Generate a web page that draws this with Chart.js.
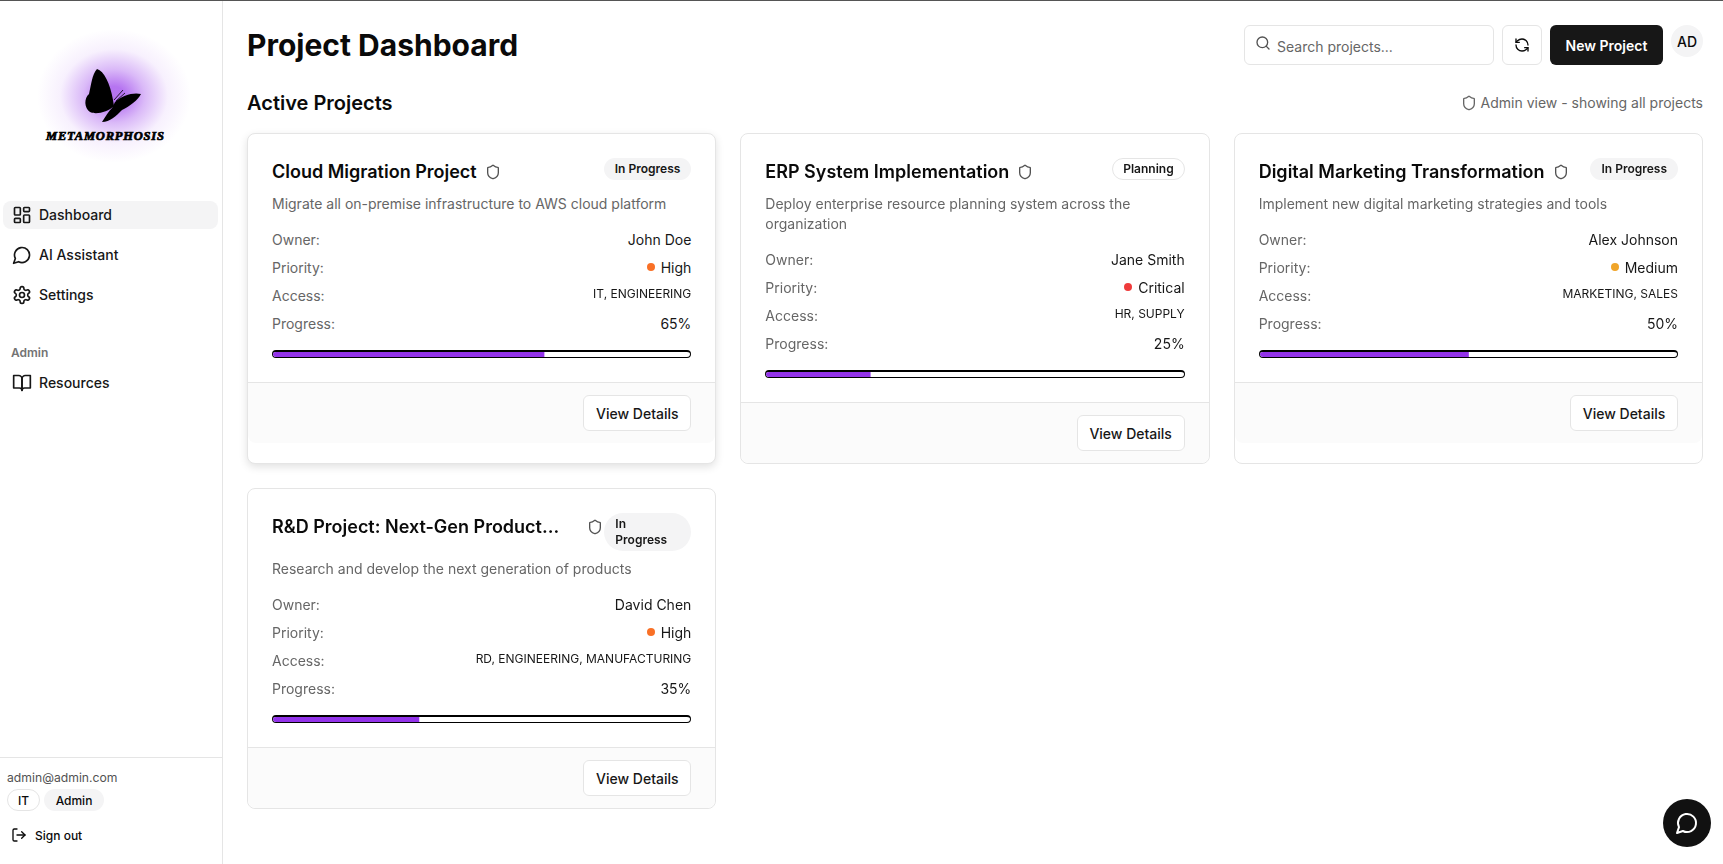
<!DOCTYPE html>
<html lang="en">
<head>
<meta charset="utf-8">
<title>Project Dashboard</title>
<script src="https://cdn.jsdelivr.net/npm/chart.js@4"></script>
<style>
    * { box-sizing: border-box; }
    html, body { margin: 0; height: 100%; overflow: hidden; }
    body { font-family: Inter, sans-serif; color: #0a0a0a; background: #fff; border-top: 1px solid #555; font-size: 14px; }
    svg.icon { fill: none; stroke: currentColor; stroke-width: 2; stroke-linecap: round; stroke-linejoin: round; flex: none; display: block; }

    .sidebar { position: absolute; left: 0; top: 1px; bottom: 0; width: 223px; border-right: 1px solid #e5e5e5; }
    .logo-glow { position: absolute; left: 37px; top: 28px; width: 154px; height: 134px; background: radial-gradient(closest-side, rgba(147, 51, 234, .68) 14%, rgba(147, 51, 234, .34) 40%, rgba(147, 51, 234, .07) 70%, rgba(147, 51, 234, 0) 100%); }
    .butterfly { position: absolute; left: 0; top: -1px; }
    .logo-text { position: absolute; left: 46px; top: 128px; width: 120px; font: italic 700 12.5px "Liberation Serif", serif; -webkit-text-stroke: .7px #000; letter-spacing: .8px; color: #000; white-space: nowrap; }
    .nav-item { position: absolute; left: 3px; width: 215px; height: 28px; display: flex; align-items: center; padding-left: 9px; gap: 7px; font-weight: 500; color: #171717; border-radius: 8px; }
    .nav-item span { position: relative; top: -1px; }
    .nav-item.active { background: #f4f4f5; }
    .nav-label { position: absolute; left: 11px; top: 344px; font-size: 12px; font-weight: 600; color: #737373; }
    .side-footer { position: absolute; left: 0; right: 0; top: 756px; border-top: 1px solid #e5e5e5; }
    .side-email { position: absolute; left: 7px; top: 12px; font-size: 12.2px; color: #525252; white-space: nowrap; }
    .chip { position: absolute; top: 31px; height: 22px; border-radius: 11px; font-size: 12px; font-weight: 500; display: flex; align-items: center; justify-content: center; }
    .sign-out { position: absolute; left: 11px; top: 69px; display: flex; align-items: center; gap: 8px; font-size: 12px; font-weight: 500; }

    .main { position: absolute; left: 247px; top: 1px; width: 1456px; }
    h1 { position: absolute; left: 0; top: 24px; margin: 0; font-size: 30px; line-height: 40px; font-weight: 700; white-space: nowrap; }
    h2 { position: absolute; left: 0; top: 88px; margin: 0; font-size: 20px; line-height: 28px; font-weight: 600; white-space: nowrap; }
    .search { position: absolute; left: 997px; top: 24px; width: 250px; height: 40px; border: 1px solid #e5e5e5; border-radius: 6px; color: #737373; }
    .search svg { position: absolute; left: 10px; top: 9px; color: #525252; }
    .search span { position: absolute; left: 32px; top: 11px; line-height: 20px; color: #666; }
    .refresh { position: absolute; left: 1255px; top: 24px; width: 40px; height: 40px; border: 1px solid #e5e5e5; border-radius: 6px; display: flex; align-items: center; justify-content: center; }
    .new-project { position: absolute; left: 1303px; top: 24px; width: 113px; height: 40px; border-radius: 6px; background: #171717; color: #fff; font-weight: 600; display: flex; align-items: center; justify-content: center; }
    .avatar { position: absolute; left: 1424px; top: 24px; width: 32px; height: 32px; border-radius: 50%; background: #f4f4f5; font-weight: 500; display: flex; align-items: center; justify-content: center; }
    .admin-note { position: absolute; right: 0; top: 92px; display: flex; align-items: center; gap: 4px; color: #666; line-height: 20px; white-space: nowrap; }

    .grid { position: absolute; left: 0; top: 132px; width: 1456px; display: grid; grid-template-columns: repeat(3, 1fr); column-gap: 24px; row-gap: 24px; }
    .project-card { border: 1px solid #e5e5e5; border-radius: 8px; background: #fff; }
    .project-card:first-child { box-shadow: 0 3px 8px rgba(0, 0, 0, .12); }
    .card-body { padding: 24px 24px 24px; }
    .card-head { display: flex; align-items: flex-start; justify-content: space-between; margin-bottom: 8px; }
    .title-wrap { display: flex; align-items: center; gap: 8px; height: 28px; }
    .project-title { font-size: 18px; line-height: 28px; font-weight: 600; white-space: nowrap; }
    .project-card:last-child .project-title { width: 307px; }
    .badge { padding: 2px 10px; border: 1px solid transparent; border-radius: 16px; background: #f4f4f5; font-size: 12px; line-height: 16px; font-weight: 600; color: #171717; }
    .badge.outline { background: #fff; border-color: #e5e5e5; }
    .project-card:last-child .badge { width: 87px; border-radius: 19px; }
    .description { line-height: 20px; color: #666; margin-bottom: 11px; }
    .row { display: flex; justify-content: space-between; align-items: center; height: 28px; color: #666; }
    .row .value { color: #171717; display: flex; align-items: center; gap: 6px; }
    .row .value.small { font-size: 12px; position: relative; top: -2px; }
    .dot { width: 8px; height: 8px; border-radius: 50%; }
    .progress-box { margin-top: 13px; height: 8px; border: 1px solid #000; border-top-width: 2px; border-radius: 4px; overflow: hidden; }
    .progress-box canvas { display: block; }
    .card-foot { border-top: 1px solid #e5e5e5; background: #fbfbfb; padding: 12px 24px; display: flex; justify-content: flex-end; border-radius: 0 0 8px 8px; }
    .view-btn { height: 36px; width: 108px; background: #fff; border: 1px solid #e5e5e5; border-radius: 6px; font-weight: 500; color: #171717; display: flex; align-items: center; justify-content: center; }
    .chat { position: absolute; left: 1663px; top: 799px; width: 48px; height: 48px; border-radius: 50%; background: #111; color: #fff; display: flex; align-items: center; justify-content: center; }
</style>
</head>
<body>
<div class="sidebar">
    <div class="logo-glow"></div>
    <svg class="butterfly" width="222" height="160" viewBox="0 0 222 160">
        <path fill="#000" d="M97 69C104 71 110 83 113 100L114 106C108 112 96 115 90 112C84 108 84 98 89 94C91 86 92 74 97 69Z"/>
        <path fill="#000" d="M115 102C122 95 134 92 141 94C138 100 130 106 122 110C116 116 110 122 102 122C106 116 108 112 112 108Z"/>
        <path stroke="#000" stroke-width=".8" fill="none" d="M114 100L123 90M116 101L125 93"/>
    </svg>
    <div class="logo-text">METAMORPHOSIS</div>
    <div class="nav-item active" style="top:200px"><svg class="icon" width="20" height="20" viewBox="0 0 24 24"><rect x="3" y="3" width="7" height="9" rx="1"/><rect x="14" y="3" width="7" height="5" rx="1"/><rect x="14" y="12" width="7" height="9" rx="1"/><rect x="3" y="16" width="7" height="5" rx="1"/></svg><span>Dashboard</span></div>
    <div class="nav-item" style="top:240px"><svg class="icon" width="20" height="20" viewBox="0 0 24 24"><path d="M7.9 20A9 9 0 1 0 4 16.1L2 22Z"/></svg><span>AI Assistant</span></div>
    <div class="nav-item" style="top:280px"><svg class="icon" width="20" height="20" viewBox="0 0 24 24"><path d="M12.22 2h-.44a2 2 0 0 0-2 2v.18a2 2 0 0 1-1 1.73l-.43.25a2 2 0 0 1-2 0l-.15-.08a2 2 0 0 0-2.73.73l-.22.38a2 2 0 0 0 .73 2.73l.15.1a2 2 0 0 1 1 1.72v.51a2 2 0 0 1-1 1.74l-.15.09a2 2 0 0 0-.73 2.73l.22.38a2 2 0 0 0 2.73.73l.15-.08a2 2 0 0 1 2 0l.43.25a2 2 0 0 1 1 1.73V20a2 2 0 0 0 2 2h.44a2 2 0 0 0 2-2v-.18a2 2 0 0 1 1-1.73l.43-.25a2 2 0 0 1 2 0l.15.08a2 2 0 0 0 2.73-.73l.22-.39a2 2 0 0 0-.73-2.73l-.15-.08a2 2 0 0 1-1-1.74v-.5a2 2 0 0 1 1-1.74l.15-.09a2 2 0 0 0 .73-2.73l-.22-.38a2 2 0 0 0-2.73-.73l-.15.08a2 2 0 0 1-2 0l-.43-.25a2 2 0 0 1-1-1.73V4a2 2 0 0 0-2-2z"/><circle cx="12" cy="12" r="3"/></svg><span>Settings</span></div>
    <div class="nav-label">Admin</div>
    <div class="nav-item" style="top:368px"><svg class="icon" width="20" height="20" viewBox="0 0 24 24"><path d="M2 3h6a4 4 0 0 1 4 4v14a3 3 0 0 0-3-3H2z"/><path d="M22 3h-6a4 4 0 0 0-4 4v14a3 3 0 0 1 3-3h7z"/></svg><span>Resources</span></div>
    <div class="side-footer">
        <div class="side-email">admin@admin.com</div>
        <div class="chip" style="left:7px;width:33px;border:1px solid #e5e5e5">IT</div>
        <div class="chip" style="left:44px;width:60px;background:#f4f4f5">Admin</div>
        <div class="sign-out"><svg class="icon" width="16" height="16" viewBox="0 0 24 24"><path d="M9 21H5a2 2 0 0 1-2-2V5a2 2 0 0 1 2-2h4"/><path d="m16 17 5-5-5-5"/><path d="M21 12H9"/></svg>Sign out</div>
    </div>
</div>

<div class="main">
    <h1>Project Dashboard</h1>
    <div class="search"><svg class="icon" width="16" height="16" viewBox="0 0 24 24"><circle cx="11" cy="11" r="8"/><path d="m21 21-4.3-4.3"/></svg><span>Search projects...</span></div>
    <div class="refresh"><svg class="icon" width="16" height="16" viewBox="0 0 24 24"><path d="M21 12a9 9 0 0 0-9-9 9.75 9.75 0 0 0-6.74 2.74L3 8"/><path d="M3 3v5h5"/><path d="M3 12a9 9 0 0 0 9 9 9.75 9.75 0 0 0 6.74-2.74L21 16"/><path d="M16 16h5v5"/></svg></div>
    <div class="new-project">New Project</div>
    <div class="avatar">AD</div>
    <h2>Active Projects</h2>
    <div class="admin-note"><svg class="icon" width="16" height="16" viewBox="0 0 24 24"><path d="M20 13c0 5-3.5 7.5-7.66 8.95a1 1 0 0 1-.67-.01C7.5 20.5 4 18 4 13V6a1 1 0 0 1 1-1c2 0 4.5-1.2 6.24-2.72a1.17 1.17 0 0 1 1.52 0C14.51 3.81 17 5 19 5a1 1 0 0 1 1 1z"/></svg>Admin view - showing all projects</div>
    <div class="grid" id="projectGrid"></div>
</div>
<div class="chat"><svg class="icon" width="24" height="24" viewBox="0 0 24 24"><path d="M7.9 20A9 9 0 1 0 4 16.1L2 22Z"/></svg></div>

<script>
const projectNames = ['Cloud Migration Project', 'ERP System Implementation', 'Digital Marketing Transformation', 'R&D Project: Next-Gen Product...'];
const projectDescriptions = [
    'Migrate all on-premise infrastructure to AWS cloud platform',
    'Deploy enterprise resource planning system across the organization',
    'Implement new digital marketing strategies and tools',
    'Research and develop the next generation of products'
];
const projectStatuses = ['In Progress', 'Planning', 'In Progress', 'In Progress'];
const projectOwners = ['John Doe', 'Jane Smith', 'Alex Johnson', 'David Chen'];
const projectPriorities = ['High', 'Critical', 'Medium', 'High'];
const projectAccess = ['IT, ENGINEERING', 'HR, SUPPLY', 'MARKETING, SALES', 'RD, ENGINEERING, MANUFACTURING'];
const progressValues = [65, 25, 50, 35];

const priorityColors = { High: '#f97026', Critical: '#ef3b3b', Medium: '#f0a52a' };
const shieldPath = 'M20 13c0 5-3.5 7.5-7.66 8.95a1 1 0 0 1-.67-.01C7.5 20.5 4 18 4 13V6a1 1 0 0 1 1-1c2 0 4.5-1.2 6.24-2.72a1.17 1.17 0 0 1 1.52 0C14.51 3.81 17 5 19 5a1 1 0 0 1 1 1z';

// One card per project, the progress bar is a small Chart.js chart
function renderProjectCards() {
    const grid = document.getElementById('projectGrid');

    projectNames.forEach((name, i) => {
        const card = document.createElement('div');
        card.className = 'project-card';
        const badgeClass = projectStatuses[i] === 'Planning' ? 'badge outline' : 'badge';
        card.innerHTML = `
            <div class="card-body">
                <div class="card-head">
                    <div class="title-wrap">
                        <span class="project-title">${name.replace('&', '&amp;')}</span>
                        <svg class="icon" width="16" height="16" viewBox="0 0 24 24" style="color:#525252"><path d="${shieldPath}"/></svg>
                    </div>
                    <span class="${badgeClass}">${projectStatuses[i]}</span>
                </div>
                <div class="description">${projectDescriptions[i]}</div>
                <div class="row"><span>Owner:</span><span class="value">${projectOwners[i]}</span></div>
                <div class="row"><span>Priority:</span><span class="value"><span class="dot" style="background:${priorityColors[projectPriorities[i]]}"></span>${projectPriorities[i]}</span></div>
                <div class="row"><span>Access:</span><span class="value small">${projectAccess[i]}</span></div>
                <div class="row"><span>Progress:</span><span class="value">${progressValues[i]}%</span></div>
                <div class="progress-box"><canvas id="progress${i}" width="417" height="5"></canvas></div>
            </div>
            <div class="card-foot"><div class="view-btn">View Details</div></div>
        `;
        grid.appendChild(card);
        renderProgressChart(`progress${i}`, name, progressValues[i]);
    });
}

function renderProgressChart(canvasId, label, value) {
    new Chart(document.getElementById(canvasId), {
        type: 'bar',
        data: {
            labels: [label],
            datasets: [{
                label: 'Progress',
                data: [value],
                backgroundColor: '#9333ea',
                barThickness: 10,
                clip: false,
                borderWidth: 0
            }]
        },
        options: {
            indexAxis: 'y',
            responsive: false,
            animation: false,
            devicePixelRatio: 1,
            layout: { padding: 0 },
            plugins: { legend: { display: false }, tooltip: { enabled: false } },
            scales: {
                x: { display: false, min: 0, max: 100 },
                y: { display: false }
            }
        }
    });
}

renderProjectCards();
</script>
</body>
</html>
